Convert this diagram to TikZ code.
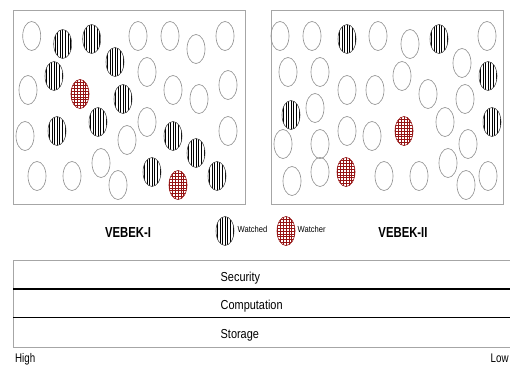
\documentclass[tikz,border=0pt]{standalone}
\usepackage{fontspec}
\setmainfont{Liberation Sans}
\definecolor{watchred}{RGB}{150,20,20}
\newcommand\narrowtxt[2][0.86]{\scalebox{#1}[1]{#2}}
\tikzset{
  frame/.style={draw=black!35, line width=0.8pt},
  plainnode/.style={draw=black!42, line width=0.65pt},
  hatchline/.style={black, line width=0.5pt},
  gridline/.style={watchred, line width=0.7pt},
  lbl/.style={inner sep=0pt},
}
% empty sensor node at (#1,#2)
\newcommand\plainc[2]{\draw[plainnode] (#1,#2) ellipse [x radius=9pt, y radius=14.5pt];}
% watched node: vertical hatching
\newcommand\watchedc[2]{%
  \begin{scope}[shift={(#1,#2)}]
    \begin{scope}
      \clip (0,0) ellipse [x radius=9pt, y radius=14.5pt];
      \foreach \k in {-3,...,3} \draw[hatchline] (\k*2.6,-16) -- (\k*2.6,16);
    \end{scope}
    \draw[black!75, line width=0.55pt] (0,0) ellipse [x radius=9pt, y radius=14.5pt];
  \end{scope}}
% watcher node: red cross-hatching
\newcommand\watcherc[2]{%
  \begin{scope}[shift={(#1,#2)}]
    \begin{scope}
      \clip (0,0) ellipse [x radius=9pt, y radius=14.5pt];
      \foreach \k in {-3,...,3} \draw[gridline] (\k*2.9,-16) -- (\k*2.9,16);
      \foreach \k in {-5,...,5} \draw[gridline] (-10,\k*2.9) -- (10,\k*2.9);
    \end{scope}
    \draw[watchred, line width=0.6pt] (0,0) ellipse [x radius=9pt, y radius=14.5pt];
  \end{scope}}
\begin{document}
\begin{tikzpicture}[x=1pt, y=-1pt]
\useasboundingbox (0,0) rectangle (510,367);

% ---- VEBEK-I field ----
\draw[frame] (13,10) rectangle (245,204);
\foreach \a/\b in {31.7/36,138/36,170/36,196/49,225/36,147/72,28/90,
  173/90,199/99,228/85,147/122,25/136,127/140,228/131,101/163,
  37/176,72/176,118/185} {\plainc{\a}{\b}}
\foreach \a/\b in {62.7/44,91.7/39,115/62,54/76,123/99,98/122,57/131,
  173/136,196/153,152/172,217/176} {\watchedc{\a}{\b}}
\foreach \a/\b in {80/94,178/185} {\watcherc{\a}{\b}}

% ---- VEBEK-II field ----
\draw[frame] (271,10) rectangle (503,204);
\foreach \a/\b in {280/36,312/36,378/36,410/44,487/36,462/63,288/72,
  320/72,402/76,347/90,375/90,428/94,465/99,315/108,445/122,
  347/131,372/136,283/144,320/144,468/144,448/163,320/172,
  384/176,419/176,292/181,466/185,488/176} {\plainc{\a}{\b}}
\foreach \a/\b in {347/39,439/39,488/76,291/115,492/122} {\watchedc{\a}{\b}}
\foreach \a/\b in {404/131,346/172} {\watcherc{\a}{\b}}

% ---- labels and legend ----
\node[lbl, font=\fontsize{14.5}{16}\selectfont\bfseries] (v1) at (128,233) {\narrowtxt[0.78]{VEBEK-I}};
\node[lbl, font=\fontsize{14.5}{16}\selectfont\bfseries] (v2) at (403,233) {\narrowtxt[0.78]{VEBEK-II}};
\watchedc{225}{231}
\node[lbl, anchor=west, font=\fontsize{8.8}{10}\selectfont] (lw) at (237.5,229) {\narrowtxt[0.86]{Watched}};
\watcherc{286}{231}
\node[lbl, anchor=west, font=\fontsize{8.8}{10}\selectfont] (lr) at (297.5,229) {\narrowtxt[0.86]{Watcher}};

% ---- trade-off bars ----
\draw[frame] (13,260) rectangle (514,347);
\draw[black, line width=1.6pt] (13,289) -- (511,289);
\draw[black, line width=0.9pt] (13,317) -- (511,317);
\node[lbl, anchor=base west, font=\fontsize{13}{15}\selectfont] (sec) at (220.5,281) {\narrowtxt[0.84]{Security}};
\node[lbl, anchor=base west, font=\fontsize{13}{15}\selectfont] (comp) at (220.5,309.5) {\narrowtxt[0.84]{Computation}};
\node[lbl, anchor=base west, font=\fontsize{13}{15}\selectfont] (stor) at (220.5,338) {\narrowtxt[0.84]{Storage}};
\node[lbl, anchor=base west, font=\fontsize{12.5}{14}\selectfont] (high) at (15,362) {\narrowtxt[0.78]{High}};
\node[lbl, anchor=base west, font=\fontsize{12.5}{14}\selectfont] (low) at (490.5,362) {\narrowtxt[0.78]{Low}};
\end{tikzpicture}
\end{document}
